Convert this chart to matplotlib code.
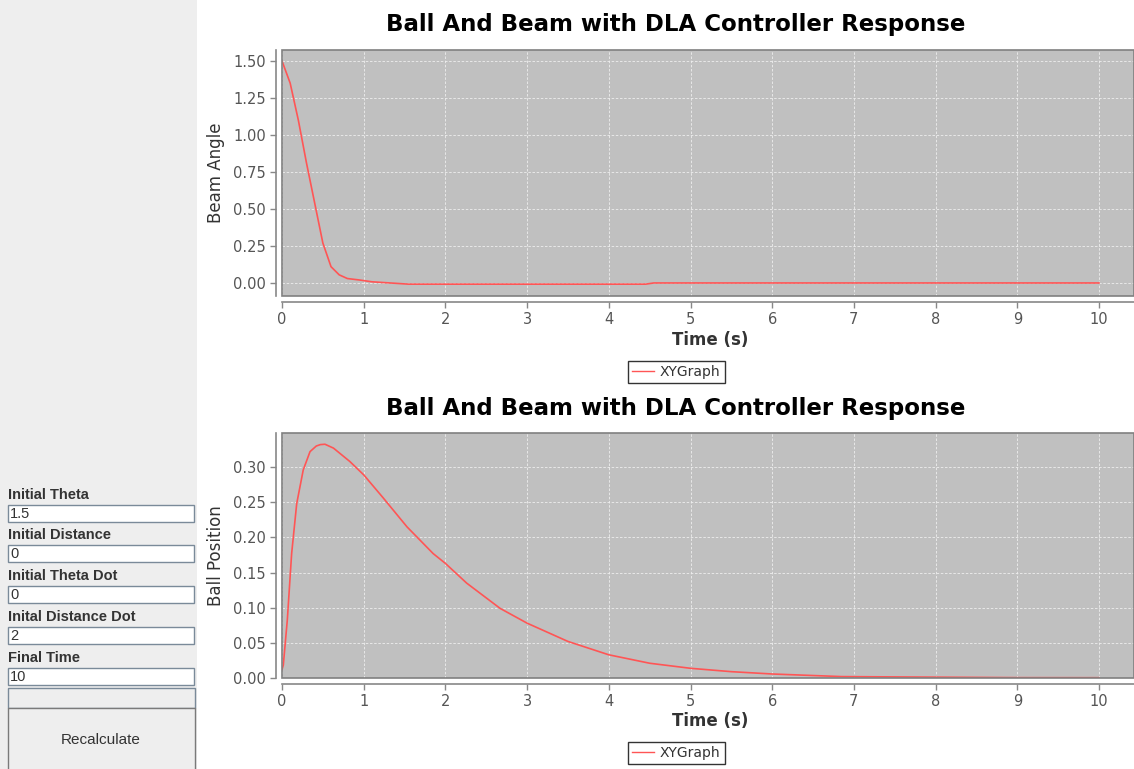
import matplotlib
matplotlib.use('Agg')
import matplotlib.pyplot as plt
from matplotlib.patches import Rectangle
from matplotlib.lines import Line2D

# Beam angle response
angle_t = [0.0, 0.1, 0.2, 0.3, 0.4, 0.5, 0.6, 0.7, 0.8, 0.95, 1.1, 1.55, 4.45, 4.55, 10.0]
angle_v = [1.50, 1.35, 1.10, 0.81, 0.54, 0.27, 0.11, 0.055, 0.03, 0.02, 0.008, -0.008, -0.008, 0.0, 0.0]

# Ball position response
pos_t = [0.0, 0.016, 0.065, 0.118, 0.18, 0.26, 0.343, 0.42, 0.47, 0.526, 0.63, 0.83, 1.0, 1.24,
         1.53, 1.85, 2.0, 2.26, 2.67, 3.0, 3.5, 4.0, 4.5, 5.0, 5.5, 6.0, 6.85, 9.0, 10.0]
pos_v = [0.012, 0.0185, 0.0825, 0.177, 0.248, 0.296, 0.322, 0.330, 0.332, 0.3325, 0.327, 0.308, 0.289, 0.256,
         0.215, 0.177, 0.163, 0.135, 0.099, 0.078, 0.052, 0.033, 0.021, 0.0138, 0.009, 0.0057, 0.002, 0.0005, 0.0004]

x_ticks = list(range(0, 11))
angle_ticks = [0.0, 0.25, 0.5, 0.75, 1.0, 1.25, 1.5]
pos_ticks = [0.0, 0.05, 0.1, 0.15, 0.2, 0.25, 0.3]

title = 'Ball And Beam with DLA Controller Response'
field_labels = ['Initial Theta', 'Initial Distance', 'Initial Theta Dot', 'Inital Distance Dot', 'Final Time']
field_values = ['1.5', '0', '0', '2', '10']

W, H = 1134, 769
fig = plt.figure(figsize=(W / 100, H / 100), dpi=100)
fig.patch.set_facecolor('white')


def fx(px):
    return px / W


def fy(py):
    return 1 - py / H


LINE = '#FF5555'
BG = '#C0C0C0'
TICK_COL = '#555555'


def make_chart(top, bottom, t, v, ylim, yticks, ylabel, fmt, title_y, xlabel_y, legend_y):
    ax = fig.add_axes([fx(282), fy(bottom), 1 - fx(282), fy(top) - fy(bottom)])
    ax.set_facecolor(BG)
    ax.plot(t, v, color=LINE, lw=1.2)
    ax.set_xlim(0, (W - 282) / 81.7)
    ax.set_ylim(*ylim)
    ax.set_xticks(x_ticks)
    ax.set_yticks(yticks)
    ax.set_yticklabels([fmt % y for y in yticks])
    ax.grid(True, color='#EEEEEE', ls=(0, (3, 2)), lw=0.6)
    for s in ['top', 'right']:
        ax.spines[s].set_visible(False)
    for s in ['left', 'bottom']:
        ax.spines[s].set_position(('outward', 4))
        ax.spines[s].set_color('#888888')
        ax.spines[s].set_linewidth(1.2)
    ax.add_patch(Rectangle((0, 0), 1, 1, transform=ax.transAxes, fill=False,
                           edgecolor='#808080', lw=1.2, clip_on=False, zorder=5))
    ax.tick_params(colors='#888888', labelcolor=TICK_COL, labelsize=10.5, length=4, width=1)
    ax.set_ylabel(ylabel, fontsize=12, color='#333333', labelpad=6)
    fig.text(fx(676), fy(title_y), title, ha='center', va='center',
             fontsize=16.5, fontweight='bold', color='black')
    fig.text(fx(710), fy(xlabel_y), 'Time (s)', ha='center', va='center',
             fontsize=12, fontweight='bold', color='#333333')
    handle = Line2D([], [], color=LINE, lw=1)
    leg = fig.legend([handle], ['XYGraph'], loc='upper left',
                     bbox_to_anchor=(fx(628), fy(legend_y)), frameon=True, fancybox=False,
                     fontsize=10, handlelength=1.6, handletextpad=0.4, borderpad=0.3,
                     borderaxespad=0)
    leg.get_frame().set_edgecolor('black')
    leg.get_frame().set_linewidth(1.0)
    for txt in leg.get_texts():
        txt.set_color('#333333')
    return ax


make_chart(50, 296, angle_t, angle_v, (-0.088, 1.574), angle_ticks, 'Beam Angle', '%.2f', 25, 340, 361)
make_chart(433, 678, pos_t, pos_v, (0.0, 0.3485), pos_ticks, 'Ball Position', '%.2f', 408, 721, 742)

# left control panel
fig.patches.append(Rectangle((0, 0), fx(197), 1, transform=fig.transFigure,
                             facecolor='#EEEEEE', edgecolor='none', zorder=0))
label_y = [495, 535, 576, 617, 658]
for lab, val, ly in zip(field_labels, field_values, label_y):
    fig.text(fx(8), fy(ly), lab, ha='left', va='center', fontsize=10.5,
             fontweight='bold', color='#333333', family='Liberation Sans')
    fig.patches.append(Rectangle((fx(8), fy(ly + 27)), fx(186), 17 / H, transform=fig.transFigure,
                                 facecolor='white', edgecolor='#7A8A99', lw=1, zorder=1))
    fig.text(fx(10), fy(ly + 19), val, ha='left', va='center', fontsize=10.5,
             color='#333333', family='Liberation Sans')
fig.patches.append(Rectangle((fx(8), fy(708)), fx(187), 20 / H, transform=fig.transFigure,
                             facecolor='#EEEEEE', edgecolor='#7A8A99', lw=1, zorder=1))
fig.patches.append(Rectangle((fx(8), fy(780)), fx(187), 72 / H, transform=fig.transFigure,
                             facecolor='#EEEEEE', edgecolor='#7A7A7A', lw=1, zorder=1))
fig.text(fx(101), fy(740), 'Recalculate', ha='center', va='center', fontsize=11,
         color='#333333', family='Liberation Sans')

fig.savefig('out.png', dpi=100)
